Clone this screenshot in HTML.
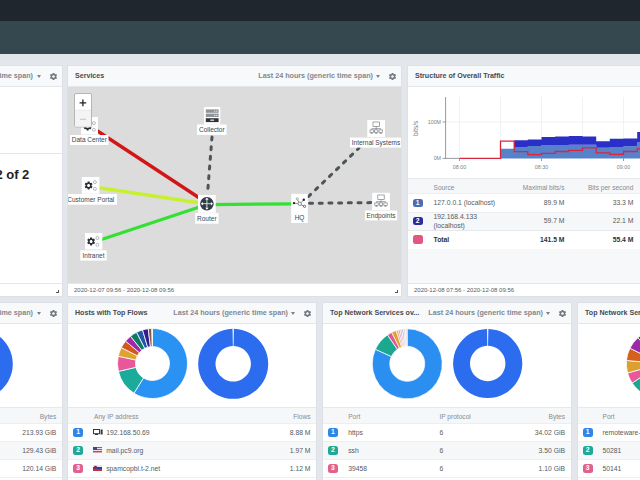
<!DOCTYPE html>
<html><head><meta charset="utf-8">
<style>
*{margin:0;padding:0;box-sizing:border-box}
html,body{width:640px;height:480px;overflow:hidden;background:#e3e6eb;font-family:"Liberation Sans",sans-serif;color:#3c4248}
.abs{position:absolute}
#top{position:absolute;left:0;top:0;width:640px;height:21px;background:#1f262d}
#nav{position:absolute;left:0;top:21px;width:640px;height:33px;background:#35474f}
.panel{position:absolute;background:#fff;border:1px solid #dde1e7;overflow:hidden}
.hd{position:absolute;left:0;top:0;right:0;height:21px;background:#f8f9fb;border-bottom:1px solid #e3e6eb}
.ttl{position:absolute;left:6px;top:0;line-height:21px;font-size:7.1px;font-weight:bold;color:#454b52;white-space:nowrap}
.ts{position:absolute;top:0;line-height:20.5px;font-size:7.2px;font-weight:bold;color:#80888f;white-space:nowrap}
.arr{position:absolute;top:9px;width:0;height:0;border-left:2.5px solid transparent;border-right:2.5px solid transparent;border-top:3px solid #7a838c}
.gear{position:absolute;top:6px;width:9px;height:9px}
.ft{position:absolute;left:0;right:0;bottom:0;height:13px;border-top:1px solid #e3e6eb;background:#fff;font-size:6px;color:#555c63;line-height:12px;padding-left:6px;white-space:nowrap}
.rs{position:absolute;right:3px;bottom:3px;width:3px;height:3px;border-right:1px solid #555;border-bottom:1px solid #555}
.lbl{position:absolute;background:#fff;font-size:6.5px;color:#4a4f55;white-space:nowrap;height:10px;line-height:10px;padding:0 2px;box-shadow:0 0.5px 1px rgba(0,0,0,.15)}
.ibox{position:absolute;background:#fff;width:17px;height:17px}
.tb{position:absolute;left:0;right:0;font-size:6.6px;color:#4a5057;white-space:nowrap}
.tb .row{position:absolute;left:0;right:0;border-bottom:1px solid #eceef1}
.bd{position:absolute;width:10.2px;height:8.5px;border-radius:2.5px;color:#fff;font-size:6.8px;font-weight:bold;text-align:center;line-height:8.6px}
.tcell{position:absolute;font-size:6.8px;line-height:8px;margin-top:-3.4px;color:#555b62;white-space:nowrap}
.tcell.hdr{color:#858c93;font-size:6.6px}
.tcell.b{font-weight:bold;color:#2d3238}
.tcell.r{text-align:right}
</style></head><body>
<svg width="0" height="0" style="position:absolute"><defs><symbol id="gearsym" viewBox="0 0 24 24"><path d="M19.14 12.94c.04-.3.06-.61.06-.94 0-.32-.02-.64-.07-.94l2.03-1.58a.49.49 0 00.12-.61l-1.92-3.32a.488.488 0 00-.59-.22l-2.39.96c-.5-.38-1.03-.7-1.62-.94l-.36-2.54a.484.484 0 00-.48-.41h-3.84c-.24 0-.43.17-.47.41l-.36 2.54c-.59.24-1.13.57-1.62.94l-2.39-.96c-.22-.08-.47 0-.59.22L2.74 8.87c-.12.21-.08.47.12.61l2.03 1.58c-.05.3-.09.63-.09.94s.02.64.07.94l-2.03 1.58a.49.49 0 00-.12.61l1.92 3.32c.12.22.37.29.59.22l2.39-.96c.5.38 1.03.7 1.62.94l.36 2.54c.05.24.24.41.48.41h3.84c.24 0 .44-.17.47-.41l.36-2.54c.59-.24 1.13-.56 1.62-.94l2.39.96c.22.08.47 0 .59-.22l1.92-3.32c.12-.22.07-.47-.12-.61l-2.01-1.58zM12 15.6c-1.98 0-3.6-1.62-3.6-3.6s1.62-3.6 3.6-3.6 3.6 1.62 3.6 3.6-1.62 3.6-3.6 3.6z"/></symbol></defs></svg>
<div id="top"></div>
<div id="nav"></div>

<!-- P1 top-left -->
<div class="panel" style="left:-20px;top:65px;width:83px;height:232px">
  <div class="hd">
    <div class="ts" style="right:29px">(generic time span)</div>
    <div class="arr" style="right:21px"></div>
    <svg class="gear" style="right:4.5px" viewBox="0 0 24 24"><use href="#gearsym" fill="#6f7880"/></svg>
  </div>
  <div class="abs" style="left:0;right:0;top:87px;height:1px;background:#e3e6eb"></div>
  <div class="abs" style="left:14.4px;top:101.4px;font-size:13px;font-weight:bold;color:#222;white-space:nowrap;line-height:15px">2 of 2</div>
  <div class="ft"></div>
  <div class="rs"></div>
</div>

<!-- P2 Services -->
<div class="panel" style="left:67px;top:65px;width:335px;height:232px">
  <div class="hd">
    <div class="ttl" style="left:7px">Services</div>
    <div class="ts" style="right:28px">Last 24 hours (generic time span)</div>
    <div class="arr" style="right:21px"></div>
    <svg class="gear" style="right:4.5px" viewBox="0 0 24 24"><use href="#gearsym" fill="#6f7880"/></svg>
  </div>
  <svg class="abs" style="left:0;top:21px" width="333" height="196" viewBox="68 87 333 196">
<defs>
 <symbol id="gr" viewBox="0 0 24 24"><path d="M19.14 12.94c.04-.3.06-.61.06-.94 0-.32-.02-.64-.07-.94l2.03-1.58a.49.49 0 00.12-.61l-1.920-3.32a.488.488 0 00-.59-.22l-2.39.96c-.5-.38-1.03-.7-1.62-.94l-.36-2.54a.484.484 0 00-.48-.41h-3.84c-.24 0-.43.17-.47.41l-.36 2.54c-.59.24-1.13.57-1.62.94l-2.39-.96c-.22-.08-.47 0-.59.22L2.74 8.87c-.12.21-.08.47.12.61l2.03 1.58c-.05.3-.09.63-.09.94s.02.64.07.94l-2.03 1.580a.49.49 0 00-.12.61l1.92 3.32c.12.22.37.29.59.22l2.39-.96c.5.38 1.03.7 1.62.94l.36 2.54c.05.24.24.41.48.41h3.84c.24 0 .44-.17.47-.41l.36-2.54c.59-.24 1.13-.56 1.620-.94l2.39.96c.22.08.47 0 .59-.22l1.92-3.32c.12-.22.07-.47-.12-.61l-2.01-1.58zM12 15.6c-1.98 0-3.6-1.62-3.6-3.6s1.62-3.6 3.6-3.6 3.6 1.62 3.6 3.6-1.62 3.6-3.6 3.6z"/></symbol>
 <g id="svc">
  <use href="#gr" x="-5" y="-5" width="10" height="10" fill="#2b3036"/>
  <circle cx="6.3" cy="-3.4" r="1.5" fill="none" stroke="#8a8f95" stroke-width="0.6"/>
  <circle cx="6.3" cy="3.4" r="1.5" fill="none" stroke="#8a8f95" stroke-width="0.6"/>
 </g>
 <g id="net" fill="none" stroke="#7d8288" stroke-width="0.7">
  <rect x="-3.2" y="-6.5" width="6.4" height="4.4" fill="#fff"/>
  <path d="M0 -2.1v2.2M-4.5 0.1h9M-4.5 0.1v1.2M0 0.1v1.2M4.5 0.1v1.2"/>
  <rect x="-6.2" y="1.4" width="3.4" height="2.4" fill="#fff"/>
  <rect x="-1.7" y="1.4" width="3.4" height="2.4" fill="#fff"/>
  <rect x="2.8" y="1.4" width="3.4" height="2.4" fill="#fff"/>
  <path d="M-4.5 3.8v1M0 3.8v1M4.5 3.8v1M-5.6 4.9h2.2M-1.1 4.9h2.2M3.4 4.9h2.2"/>
 </g>
</defs>
<rect x="68" y="87" width="333" height="196" fill="#dcdcdc"/>
<!-- links -->
<g stroke-linecap="round" fill="none">
 <line x1="96" y1="130" x2="204" y2="201" stroke="#d21515" stroke-width="3.3"/>
 <line x1="97" y1="187.5" x2="204" y2="203.5" stroke="#c8f032" stroke-width="3.3"/>
 <line x1="100" y1="240" x2="204" y2="205.5" stroke="#33e033" stroke-width="3.3"/>
 <line x1="210" y1="204.6" x2="294" y2="203.8" stroke="#33e033" stroke-width="3.3"/>
 <g stroke="#4e5458" stroke-width="3" stroke-dasharray="3 6.7">
  <line x1="212" y1="137" x2="207.5" y2="194"/>
  <line x1="308.5" y1="196.5" x2="359" y2="148"/>
  <line x1="309.5" y1="203.3" x2="372" y2="202.6"/>
 </g>
</g>
<!-- nodes -->
<g font-family="Liberation Sans, sans-serif" font-size="6.5" fill="#40454b" text-anchor="middle">
 <!-- Data Center -->
 <rect x="81" y="117" width="17" height="17.5" fill="#fff"/>
 <use href="#svc" x="87.6" y="126.5"/>
 <rect x="70" y="135" width="38.5" height="10" fill="#fff"/>
 <text x="89.3" y="142.3">Data Center</text>
 <!-- Collector -->
 <rect x="204" y="107" width="16.3" height="17.5" fill="#fff"/>
 <rect x="205.8" y="109.4" width="12.8" height="3.4" fill="#8f9499"/>
 <rect x="205.8" y="113.6" width="12.8" height="3.4" fill="#8f9499"/>
 <rect x="205.8" y="118.2" width="12.8" height="3.9" fill="#2d3338"/>
 <rect x="210.3" y="119.6" width="3.8" height="1.1" fill="#fff"/>
 <circle cx="214.8" cy="111.1" r="0.6" fill="#fff"/><circle cx="216.8" cy="111.1" r="0.6" fill="#fff"/>
 <circle cx="214.8" cy="115.3" r="0.6" fill="#fff"/><circle cx="216.8" cy="115.3" r="0.6" fill="#fff"/>
 <rect x="197" y="124.5" width="29.5" height="10.4" fill="#fff"/>
 <text x="211.8" y="132">Collector</text>
 <!-- Internal Systems -->
 <rect x="367.3" y="120" width="17.7" height="17" fill="#fff"/>
 <use href="#net" x="376.2" y="128.5"/>
 <rect x="350" y="137.6" width="51.5" height="10" fill="#fff"/>
 <text x="376" y="144.8">Internal Systems</text>
 <!-- Customer Portal -->
 <rect x="81.8" y="177" width="17.6" height="16.8" fill="#fff"/>
 <use href="#svc" x="88.6" y="185.5"/>
 <rect x="64" y="194" width="53" height="10.7" fill="#fff"/>
 <text x="90.8" y="201.8">Customer Portal</text>
 <!-- Router -->
 <rect x="198" y="195" width="17.7" height="17.8" fill="#fff"/>
 <circle cx="206.9" cy="203.7" r="6.8" fill="#2f3b45"/>
 <g fill="#fff" stroke="#fff" stroke-width="0.9">
  <path d="M206.9 197.6l-1.7 2.1h3.4zM206.9 209.8l-1.7-2.1h3.4zM200.8 203.7l2.1-1.7v3.4zM213 203.7l-2.1-1.7v3.4z" stroke="none"/>
  <path d="M206.9 199.5v8.4M202.7 203.7h8.4" stroke-width="0.8"/>
 </g>
 <rect x="195.2" y="213.1" width="23.3" height="10.6" fill="#fff"/>
 <text x="206.8" y="220.8">Router</text>
 <!-- HQ -->
 <rect x="291.2" y="193.8" width="16.6" height="29.2" fill="#fff"/>
 <g stroke="#3a3f45" stroke-width="0.6" fill="none">
  <path d="M294 203.1L298 203.6M301.2 202.6L303.8 199.8M301.2 205L304 206.1M298.9 202.2L297.6 199.9"/>
  <circle cx="299.8" cy="203.8" r="1.7" stroke="#5a5f66" stroke-width="0.7"/>
  <circle cx="297.3" cy="198.8" r="1.1" stroke="#8d8a70" stroke-width="0.7"/>
  <circle cx="304.6" cy="206.4" r="1.1" stroke="#3a3f45" stroke-width="0.7"/>
 </g>
 <circle cx="294" cy="203.1" r="1.2" fill="#22272c"/>
 <circle cx="303.8" cy="199.8" r="1.2" fill="#22272c"/>
 <text x="299.5" y="219.6">HQ</text>
 <!-- Endpoints -->
 <rect x="372.2" y="192.8" width="17.7" height="17.2" fill="#fff"/>
 <use href="#net" x="381" y="201.5"/>
 <rect x="365" y="210.5" width="32.2" height="9.9" fill="#fff"/>
 <text x="381" y="217.7">Endpoints</text>
 <!-- Intranet -->
 <rect x="85" y="233" width="17.3" height="16.5" fill="#fff"/>
 <use href="#svc" x="91.1" y="241.4"/>
 <rect x="80.3" y="250.3" width="26.3" height="10.3" fill="#fff"/>
 <text x="93.5" y="257.8">Intranet</text>
</g>
<!-- zoom control -->
<rect x="74.5" y="93.5" width="17" height="33.5" rx="1.5" fill="#fff" stroke="#b5b5b5" stroke-width="1"/>
<rect x="75" y="110.3" width="16" height="16.2" fill="#f4f4f4"/>
<line x1="75" y1="110.2" x2="91" y2="110.2" stroke="#ddd" stroke-width="0.6"/>
<path d="M82.9 99.6v6.6M79.6 102.9h6.6" stroke="#222" stroke-width="1.3"/>
<path d="M79.8 119.3h6.2" stroke="#c4c4c4" stroke-width="1"/>
</svg>

  <div class="ft" style="padding-left:6px">2020-12-07 09:56 - 2020-12-08 09:56</div>
  <div class="rs"></div>
</div>

<!-- P3 Structure -->
<div class="panel" style="left:407px;top:65px;width:250px;height:232px">
  <div class="hd"><div class="ttl" style="left:7px">Structure of Overall Traffic</div></div>
<svg class="abs" style="left:0;top:21px" width="250" height="92" viewBox="408 87 250 92">
<g stroke="#ececec" stroke-width="0.7">
 <line x1="459.5" y1="97" x2="459.5" y2="158.4"/><line x1="500.5" y1="97" x2="500.5" y2="158.4"/>
 <line x1="541.5" y1="97" x2="541.5" y2="158.4"/><line x1="582.5" y1="97" x2="582.5" y2="158.4"/>
 <line x1="623.5" y1="97" x2="623.5" y2="158.4"/><line x1="445.6" y1="122" x2="660" y2="122"/>
</g>
<polygon points="500.5,158.4 500.5,148.8 514.2,148.8 514.2,146.9 527.8,146.9 527.8,146.0 541.5,146.0 541.5,145.0 555.2,145.0 555.2,145.0 568.8,145.0 568.8,144.8 582.5,144.8 582.5,144.8 596.2,144.8 596.2,147.8 609.8,147.8 609.8,146.9 623.5,146.9 623.5,146.2 637.2,146.2 637.2,142.5 650.8,142.5 650.8,142.5 664.5,142.5 664.5,158.4" fill="#5682cc"/>
<polygon points="500.5,148.8 514.2,148.8 514.2,140.2 527.8,140.2 527.8,139.4 541.5,139.4 541.5,137.1 555.2,137.1 555.2,136.5 568.8,136.5 568.8,135.9 582.5,135.9 582.5,136.6 596.2,136.6 596.2,141.2 609.8,141.2 609.8,138.8 623.5,138.8 623.5,138.4 637.2,138.4 637.2,131.9 650.8,131.9 650.8,131.9 664.5,131.9 664.5,142.5 650.8,142.5 650.8,142.5 637.2,142.5 637.2,146.2 623.5,146.2 623.5,146.9 609.8,146.9 609.8,147.8 596.2,147.8 596.2,144.8 582.5,144.8 582.5,144.8 568.8,144.8 568.8,145.0 555.2,145.0 555.2,145.0 541.5,145.0 541.5,146.0 527.8,146.0 527.8,146.9 514.2,146.9 514.2,148.8 500.5,148.8" fill="#2a2fc8"/>
<polyline points="459.5,158.4 500.5,158.4 500.5,141.2 514.2,141.2 514.2,151.6 527.8,151.6 527.8,154.6 541.5,154.6 541.5,153.3 555.2,153.3 555.2,151.5 568.8,151.5 568.8,150.4 582.5,150.4 582.5,147.8 596.2,147.8 596.2,152.8 609.8,152.8 609.8,154.4 623.5,154.4 623.5,151.5 637.2,151.5 637.2,148.8 650.8,148.8 650.8,148.8 664.5,148.8" fill="none" stroke="#d8263d" stroke-width="1.3"/>
<g stroke="#74797e" stroke-width="0.75">
 <line x1="445.6" y1="97" x2="445.6" y2="158.8"/>
 <line x1="442.5" y1="122" x2="445.6" y2="122"/><line x1="442.5" y1="158.4" x2="445.6" y2="158.4"/>
 <line x1="445.6" y1="158.4" x2="459.5" y2="158.4"/>
 <line x1="459.5" y1="158.4" x2="459.5" y2="161"/><line x1="541.5" y1="158.4" x2="541.5" y2="161"/><line x1="623.5" y1="158.4" x2="623.5" y2="161"/>
</g>
<g font-family="Liberation Sans, sans-serif" font-size="5.3" fill="#7c8186">
 <text x="441" y="124" text-anchor="end">100M</text>
 <text x="441" y="160.3" text-anchor="end">0M</text>
 <text x="459.5" y="168.5" text-anchor="middle">08:00</text>
 <text x="541.5" y="168.5" text-anchor="middle">08:30</text>
 <text x="623.5" y="168.5" text-anchor="middle">09:00</text>
 <text transform="translate(418.2 128.3) rotate(-90)" text-anchor="middle" font-size="6.6">bits/s</text>
</g>
</svg>
  
<div class="abs" style="left:0;right:0;top:112px;height:1px;background:#e6e8ec"></div>
<div class="abs" style="left:0;right:0;top:113px;height:15px;background:#f6f7f9;border-bottom:1px solid #eceef1"></div>
<div class="abs" style="left:0;right:0;top:146px;height:18.5px;background:#f6f7f9;border-top:1px solid #eceef1;border-bottom:1px solid #e6e8ec"></div>
<div class="abs" style="left:0;right:0;top:182.5px;height:34.5px;background:#f7f8fa"></div>
<div class="tcell hdr" style="left:25.5px;top:121.19999999999999px">Source</div>
<div class="tcell hdr r" style="right:91.5px;top:121.19999999999999px">Maximal bits/s</div>
<div class="tcell hdr r" style="right:22.6px;top:121.19999999999999px">Bits per second</div>
<div class="bd" style="left:4.5px;top:132.8px;background:#4a6db5">1</div>
<div class="tcell" style="left:25.5px;top:136.8px">127.0.0.1 (localhost)</div>
<div class="tcell r" style="right:91.5px;top:136.8px">89.9 M</div>
<div class="tcell r" style="right:22.6px;top:136.8px">33.3 M</div>
<div class="bd" style="left:4.5px;top:150.6px;background:#2c2c9e">2</div>
<div class="tcell" style="left:25.5px;top:150.8px">192.168.4.133</div>
<div class="tcell" style="left:25.5px;top:159px">(localhost)</div>
<div class="tcell r" style="right:91.5px;top:154.6px">59.7 M</div>
<div class="tcell r" style="right:22.6px;top:154.6px">22.1 M</div>
<div class="bd" style="left:4.5px;top:169.3px;background:#e2577f;height:8.4px;width:10.5px"></div>
<div class="tcell b" style="left:25.5px;top:173.2px">Total</div>
<div class="tcell b r" style="right:91.5px;top:173.2px">141.5 M</div>
<div class="tcell b r" style="right:22.6px;top:173.2px">55.4 M</div>
<div class="ft">2020-12-08 07:56 - 2020-12-08 09:56</div>
</div>

<!-- Bottom row -->
<div class="panel" style="left:-20px;top:302px;width:83px;height:200px">
<div class="hd"><div class="ts" style="right:29px">Last 24 hours (generic time span)</div><div class="arr" style="right:21px"></div><svg class="gear" style="right:4.5px" viewBox="0 0 24 24"><use href="#gearsym" fill="#6f7880"/></svg></div><svg class="abs" style="left:0;top:21px" width="81" height="100" viewBox="-19 324 81 100"><path d="M-22.20 329.00A35 35 0 1 1 -22.21 329.00L-22.20 346.30A17.7 17.7 0 1 0 -22.20 346.30Z" fill="#2c6cef" stroke="#fff" stroke-width="0"/></svg><div class="abs" style="left:0;width:81px;top:104px;height:1px;background:#e6e8ec"></div>
<div class="abs" style="left:0;width:81px;top:105px;height:15.5px;background:#f6f7f9;border-bottom:1px solid #eceef1"></div>
<div class="abs" style="left:0;width:81px;top:138px;height:18.5px;background:#f6f7f9;border-top:1px solid #eceef1;border-bottom:1px solid #eceef1"></div>
<div class="abs" style="left:0;width:81px;top:174px;height:1px;background:#eceef1"></div><div class="tcell r hdr" style="right:5.8px;top:113.5px">Bytes</div><div class="tcell r " style="right:5.8px;top:129.3px">213.93 GiB</div><div class="tcell r " style="right:5.8px;top:147.3px">129.43 GiB</div><div class="tcell r " style="right:5.8px;top:165.3px">120.14 GiB</div>
</div>
<div class="panel" style="left:67px;top:302px;width:250px;height:200px">
<div class="hd"><div class="ttl" style="left:7px">Hosts with Top Flows</div><div class="ts" style="right:28px">Last 24 hours (generic time span)</div><div class="arr" style="right:21px"></div><svg class="gear" style="right:4.5px" viewBox="0 0 24 24"><use href="#gearsym" fill="#6f7880"/></svg></div><svg class="abs" style="left:0;top:21px" width="248" height="100" viewBox="68 324 248 100"><path d="M152.50 328.50A35 35 0 1 1 133.95 393.18L143.49 377.92A17 17 0 1 0 152.50 346.50Z" fill="#2a92f2" stroke="#fff" stroke-width="0.8"/>
<path d="M133.95 393.18A35 35 0 0 1 118.40 371.37L135.94 367.32A17 17 0 0 0 143.49 377.92Z" fill="#1aab9b" stroke="#fff" stroke-width="0.8"/>
<path d="M118.40 371.37A35 35 0 0 1 118.26 356.22L135.87 359.97A17 17 0 0 0 135.94 367.32Z" fill="#e8579a" stroke="#fff" stroke-width="0.8"/>
<path d="M118.26 356.22A35 35 0 0 1 121.31 347.61L137.35 355.78A17 17 0 0 0 135.87 359.97Z" fill="#dfa22e" stroke="#fff" stroke-width="0.8"/>
<path d="M121.31 347.61A35 35 0 0 1 125.57 341.14L139.42 352.64A17 17 0 0 0 137.35 355.78Z" fill="#d6561f" stroke="#fff" stroke-width="0.8"/>
<path d="M125.57 341.14A35 35 0 0 1 130.47 336.30L141.80 350.29A17 17 0 0 0 139.42 352.64Z" fill="#9c2aa8" stroke="#fff" stroke-width="0.8"/>
<path d="M130.47 336.30A35 35 0 0 1 136.61 332.31L144.78 348.35A17 17 0 0 0 141.80 350.29Z" fill="#0f7a62" stroke="#fff" stroke-width="0.8"/>
<path d="M136.61 332.31A35 35 0 0 1 142.56 329.94L147.67 347.20A17 17 0 0 0 144.78 348.35Z" fill="#1f56a6" stroke="#fff" stroke-width="0.8"/>
<path d="M142.56 329.94A35 35 0 0 1 148.23 328.76L150.43 346.63A17 17 0 0 0 147.67 347.20Z" fill="#34198f" stroke="#fff" stroke-width="0.8"/>
<path d="M148.23 328.76A35 35 0 0 1 151.64 328.51L152.08 346.51A17 17 0 0 0 150.43 346.63Z" fill="#7a5a3a" stroke="#fff" stroke-width="0.8"/><path d="M233.87 328.81A35 35 0 1 1 232.53 328.81L232.86 346.10A17.7 17.7 0 1 0 233.54 346.10Z" fill="#2c6cef" stroke="#fff" stroke-width="0"/></svg><div class="abs" style="left:0;width:248px;top:104px;height:1px;background:#e6e8ec"></div>
<div class="abs" style="left:0;width:248px;top:105px;height:15.5px;background:#f6f7f9;border-bottom:1px solid #eceef1"></div>
<div class="abs" style="left:0;width:248px;top:138px;height:18.5px;background:#f6f7f9;border-top:1px solid #eceef1;border-bottom:1px solid #eceef1"></div>
<div class="abs" style="left:0;width:248px;top:174px;height:1px;background:#eceef1"></div><div class="tcell hdr" style="left:26px;top:113.5px">Any IP address</div><div class="tcell r hdr" style="right:5.5px;top:113.5px">Flows</div><div class="bd" style="left:5.1px;top:125.1px;background:#2f86e6">1</div><div class="tcell " style="left:38.2px;top:129.3px">192.168.50.69</div><div class="tcell r " style="right:5.5px;top:129.3px">8.88 M</div><div class="bd" style="left:5.1px;top:143.1px;background:#1fa996">2</div><div class="tcell " style="left:38.2px;top:147.3px">mail.pc9.org</div><div class="tcell r " style="right:5.5px;top:147.3px">1.97 M</div><div class="bd" style="left:5.1px;top:161.1px;background:#e0628b">3</div><div class="tcell " style="left:38.2px;top:165.3px">spamcopbl.t-2.net</div><div class="tcell r " style="right:5.5px;top:165.3px">1.12 M</div><svg class="abs" style="left:25.4px;top:126.3px" width="10" height="6" viewBox="0 0 10 6"><rect x="0.5" y="0.5" width="6" height="4.2" fill="none" stroke="#33383d" stroke-width="1"/><rect x="2" y="5" width="3" height="1" fill="#33383d"/><rect x="7.6" y="0.5" width="2" height="5" fill="#33383d"/></svg><svg class="abs" style="left:25.4px;top:144.3px" width="9" height="6" viewBox="0 0 9 6"><rect width="9" height="6" fill="#c8455a"/><rect y="1" width="9" height="1" fill="#f1e0e3"/><rect y="3" width="9" height="1" fill="#f1e0e3"/><rect y="5" width="9" height="0.6" fill="#f1e0e3"/><rect width="4" height="3" fill="#3a4a8c"/></svg><svg class="abs" style="left:25.4px;top:162.3px" width="9" height="6" viewBox="0 0 9 6"><rect width="9" height="2" fill="#e8e8ee"/><rect y="2" width="9" height="2" fill="#2a3f9a"/><rect y="4" width="9" height="2" fill="#c7313e"/><rect x="1.5" y="1" width="2.2" height="3" fill="#2a3f9a" stroke="#c7313e" stroke-width="0.4"/></svg>
</div>
<div class="panel" style="left:322px;top:302px;width:250px;height:200px">
<div class="hd"><div class="ttl" style="left:7px">Top Network Services ov...</div><div class="ts" style="right:28px">Last 24 hours (generic time span)</div><div class="arr" style="right:21px"></div><svg class="gear" style="right:4.5px" viewBox="0 0 24 24"><use href="#gearsym" fill="#6f7880"/></svg></div><svg class="abs" style="left:0;top:21px" width="248" height="100" viewBox="323 324 248 100"><path d="M407.25 328.80A35 35 0 1 1 375.40 349.29L391.33 356.54A17.5 17.5 0 1 0 407.25 346.30Z" fill="#2b8ff1" stroke="#fff" stroke-width="0.7"/>
<path d="M375.40 349.29A35 35 0 0 1 387.48 334.92L397.36 349.36A17.5 17.5 0 0 0 391.33 356.54Z" fill="#1aa98f" stroke="#fff" stroke-width="0.7"/>
<path d="M387.48 334.92A35 35 0 0 1 391.74 332.42L399.50 348.11A17.5 17.5 0 0 0 397.36 349.36Z" fill="#e0589a" stroke="#fff" stroke-width="0.7"/>
<path d="M391.74 332.42A35 35 0 0 1 396.14 330.61L401.70 347.20A17.5 17.5 0 0 0 399.50 348.11Z" fill="#dfa22e" stroke="#fff" stroke-width="0.7"/>
<path d="M396.14 330.61A35 35 0 0 1 398.19 329.99L402.72 346.90A17.5 17.5 0 0 0 401.70 347.20Z" fill="#e3a070" stroke="#fff" stroke-width="0.7"/>
<path d="M398.19 329.99A35 35 0 0 1 399.97 329.56L403.61 346.68A17.5 17.5 0 0 0 402.72 346.90Z" fill="#c790c8" stroke="#fff" stroke-width="0.7"/>
<path d="M399.97 329.56A35 35 0 0 1 401.77 329.23L404.51 346.52A17.5 17.5 0 0 0 403.61 346.68Z" fill="#d8a0b0" stroke="#fff" stroke-width="0.7"/>
<path d="M401.77 329.23A35 35 0 0 1 403.59 328.99L405.42 346.40A17.5 17.5 0 0 0 404.51 346.52Z" fill="#b7a0d8" stroke="#fff" stroke-width="0.7"/>
<path d="M403.59 328.99A35 35 0 0 1 405.42 328.85L406.33 346.32A17.5 17.5 0 0 0 405.42 346.40Z" fill="#d0d0d0" stroke="#fff" stroke-width="0.7"/>
<path d="M405.42 328.85A35 35 0 0 1 406.82 328.80L407.04 346.30A17.5 17.5 0 0 0 406.33 346.32Z" fill="#e0c8c8" stroke="#fff" stroke-width="0.7"/><path d="M488.36 328.91A34.6 34.6 0 1 1 487.04 328.91L487.36 345.80A17.7 17.7 0 1 0 488.04 345.80Z" fill="#2c6cef" stroke="#fff" stroke-width="0"/></svg><div class="abs" style="left:0;width:248px;top:104px;height:1px;background:#e6e8ec"></div>
<div class="abs" style="left:0;width:248px;top:105px;height:15.5px;background:#f6f7f9;border-bottom:1px solid #eceef1"></div>
<div class="abs" style="left:0;width:248px;top:138px;height:18.5px;background:#f6f7f9;border-top:1px solid #eceef1;border-bottom:1px solid #eceef1"></div>
<div class="abs" style="left:0;width:248px;top:174px;height:1px;background:#eceef1"></div><div class="tcell hdr" style="left:25.2px;top:113.5px">Port</div><div class="tcell hdr" style="left:116.4px;top:113.5px">IP protocol</div><div class="tcell r hdr" style="right:6px;top:113.5px">Bytes</div><div class="bd" style="left:4.8px;top:125.1px;background:#2f86e6">1</div><div class="tcell " style="left:25.2px;top:129.3px">https</div><div class="tcell " style="left:116.4px;top:129.3px">6</div><div class="tcell r " style="right:6px;top:129.3px">34.02 GiB</div><div class="bd" style="left:4.8px;top:143.1px;background:#1fa996">2</div><div class="tcell " style="left:25.2px;top:147.3px">ssh</div><div class="tcell " style="left:116.4px;top:147.3px">6</div><div class="tcell r " style="right:6px;top:147.3px">3.50 GiB</div><div class="bd" style="left:4.8px;top:161.1px;background:#e0628b">3</div><div class="tcell " style="left:25.2px;top:165.3px">39458</div><div class="tcell " style="left:116.4px;top:165.3px">6</div><div class="tcell r " style="right:6px;top:165.3px">1.10 GiB</div>
</div>
<div class="panel" style="left:577px;top:302px;width:122px;height:200px">
<div class="hd"><div class="ttl" style="left:7px">Top Network Services overview</div></div><svg class="abs" style="left:0;top:21px" width="120" height="100" viewBox="578 324 120 100"><path d="M661.30 328.70A35 35 0 1 1 649.33 396.59L655.31 380.14A17.5 17.5 0 1 0 661.30 346.20Z" fill="#2b8ff1" stroke="#fff" stroke-width="0.8"/>
<path d="M649.33 396.59A35 35 0 0 1 632.11 383.02L646.71 373.36A17.5 17.5 0 0 0 655.31 380.14Z" fill="#1aa98f" stroke="#fff" stroke-width="0.8"/>
<path d="M632.11 383.02A35 35 0 0 1 627.56 372.99L644.43 368.35A17.5 17.5 0 0 0 646.71 373.36Z" fill="#e8589a" stroke="#fff" stroke-width="0.8"/>
<path d="M627.56 372.99A35 35 0 0 1 626.46 360.41L643.88 362.05A17.5 17.5 0 0 0 644.43 368.35Z" fill="#dca02e" stroke="#fff" stroke-width="0.8"/>
<path d="M626.46 360.41A35 35 0 0 1 629.92 348.19L645.61 355.95A17.5 17.5 0 0 0 643.88 362.05Z" fill="#d6601c" stroke="#fff" stroke-width="0.8"/>
<path d="M629.92 348.19A35 35 0 0 1 637.88 337.69L649.59 350.69A17.5 17.5 0 0 0 645.61 355.95Z" fill="#9c2aa8" stroke="#fff" stroke-width="0.8"/>
<path d="M637.88 337.69A35 35 0 0 1 643.80 333.39L652.55 348.54A17.5 17.5 0 0 0 649.59 350.69Z" fill="#0f6a5a" stroke="#fff" stroke-width="0.8"/>
<path d="M643.80 333.39A35 35 0 0 1 649.33 330.81L655.31 347.26A17.5 17.5 0 0 0 652.55 348.54Z" fill="#1f56a6" stroke="#fff" stroke-width="0.8"/>
<path d="M649.33 330.81A35 35 0 0 1 655.22 329.23L658.26 346.47A17.5 17.5 0 0 0 655.31 347.26Z" fill="#34198f" stroke="#fff" stroke-width="0.8"/>
<path d="M655.22 329.23A35 35 0 0 1 660.69 328.71L660.99 346.20A17.5 17.5 0 0 0 658.26 346.47Z" fill="#7a5a3a" stroke="#fff" stroke-width="0.8"/></svg><div class="abs" style="left:0;width:120px;top:104px;height:1px;background:#e6e8ec"></div>
<div class="abs" style="left:0;width:120px;top:105px;height:15.5px;background:#f6f7f9;border-bottom:1px solid #eceef1"></div>
<div class="abs" style="left:0;width:120px;top:138px;height:18.5px;background:#f6f7f9;border-top:1px solid #eceef1;border-bottom:1px solid #eceef1"></div>
<div class="abs" style="left:0;width:120px;top:174px;height:1px;background:#eceef1"></div><div class="tcell hdr" style="left:24.5px;top:113.5px">Port</div><div class="bd" style="left:4.5px;top:125.1px;background:#2f86e6">1</div><div class="tcell " style="left:24.5px;top:129.3px">remoteware-cl</div><div class="bd" style="left:4.5px;top:143.1px;background:#1fa996">2</div><div class="tcell " style="left:24.5px;top:147.3px">50281</div><div class="bd" style="left:4.5px;top:161.1px;background:#e0628b">3</div><div class="tcell " style="left:24.5px;top:165.3px">50141</div>
</div>
</body></html>
